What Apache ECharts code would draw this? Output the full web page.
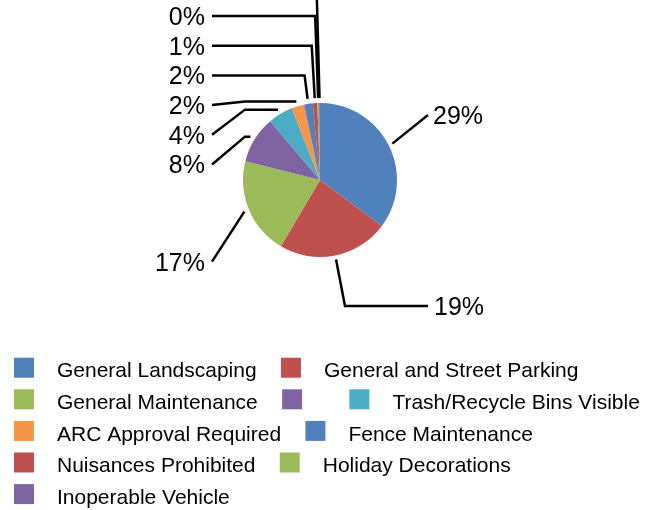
<!DOCTYPE html>
<html><head><meta charset="utf-8">
<script src="https://cdn.jsdelivr.net/npm/echarts@6/dist/echarts.min.js"></script>
<style>html,body{margin:0;padding:0;background:#fff}#c{width:659px;height:510px}</style>
</head><body><div id="c"></div>
<script>
// Data
const categories = ['General Landscaping', 'General and Street Parking', 'General Maintenance', '\u200b',
  'Trash/Recycle Bins Visible', 'ARC Approval Required', 'Fence Maintenance', 'Nuisances Prohibited',
  'Holiday Decorations', 'Inoperable Vehicle'];
const values = [29.1, 19.3, 16.9, 8.2, 4.3, 2.2, 1.5, 0.8, 0.3, 0.15];

// Style
const palette = ['#4F81BD', '#C0504D', '#9BBB59', '#8064A2', '#4BACC6', '#F79646',
  '#4F81BD', '#C0504D', '#9BBB59', '#8064A2'];
const FONT = 'Liberation Sans, Arial, sans-serif';
const CX = 320, CY = 180, R = 77;
const TEXT_DY = 2;

const total = values.reduce((a, b) => a + b, 0);
function midAngle(i) {
  let before = 0;
  for (let k = 0; k < i; k++) before += values[k];
  return (before + values[i] / 2) / total * Math.PI * 2;
}
function pointAt(ang, r) {
  return [CX + r * Math.sin(ang), CY - r * Math.cos(ang)];
}

function labelLayout(p) {
  const i = p.dataIndex;
  const ang = midAngle(i);
  if (i === 0) {
    const a = pointAt(ang, R + 4);
    return { x: 433, y: 115 + TEXT_DY, align: 'left', verticalAlign: 'middle',
      labelLinePoints: [a, [428, 115]] };
  }
  if (i === 1) {
    const a = pointAt(ang, R + 4);
    return { x: 434, y: 306 + TEXT_DY, align: 'left', verticalAlign: 'middle',
      labelLinePoints: [a, [345, 306], [428, 306]] };
  }
  const a = pointAt(ang, R + 5);
  const ly = (i === 2) ? a[1] + 50 : 164.5 - (i - 3) * 29.7;
  let pts;
  if (ly > a[1]) {
    pts = [[212, ly], [Math.min(245, a[0]), a[1]], a];
  } else {
    pts = [[212, ly], [a[0] - 3, ly], a];
  }
  return { x: 205, y: ly + TEXT_DY, align: 'right', verticalAlign: 'middle', labelLinePoints: pts };
}

const chart = echarts.init(document.getElementById('c'), null, { renderer: 'canvas' });
chart.setOption({
  backgroundColor: '#ffffff',
  animation: false,
  color: palette,
  legend: {
    orient: 'horizontal',
    left: 14,
    top: 357.7,
    width: 660,
    padding: 0,
    itemGap: 3.6,
    itemWidth: 20,
    itemHeight: 28,
    // square 20x20 at the top of a 20x28 box, so the label sits a little lower
    icon: 'path://M0,0L20,0L20,20L0,20ZM0,28',
    data: categories,
    textStyle: {
      fontFamily: FONT,
      fontSize: 21,
      color: '#000',
      lineHeight: 20,
      padding: [0, 20.7, 0, 18]
    }
  },
  series: [{
    type: 'pie',
    center: [CX, CY],
    radius: R,
    startAngle: 90,
    clockwise: true,
    avoidLabelOverlap: false,
    data: categories.map((n, i) => ({ name: n, value: values[i] })),
    itemStyle: { borderWidth: 0 },
    label: {
      show: true,
      position: 'outside',
      formatter: p => Math.round(p.value) + '%',
      fontFamily: FONT,
      fontSize: 25,
      color: '#000'
    },
    labelLine: {
      show: true,
      smooth: false,
      length: 10,
      length2: 10,
      lineStyle: { color: '#000', width: 2.5 }
    },
    labelLayout: labelLayout,
    emphasis: { disabled: true }
  }]
});
</script>
</body></html>
